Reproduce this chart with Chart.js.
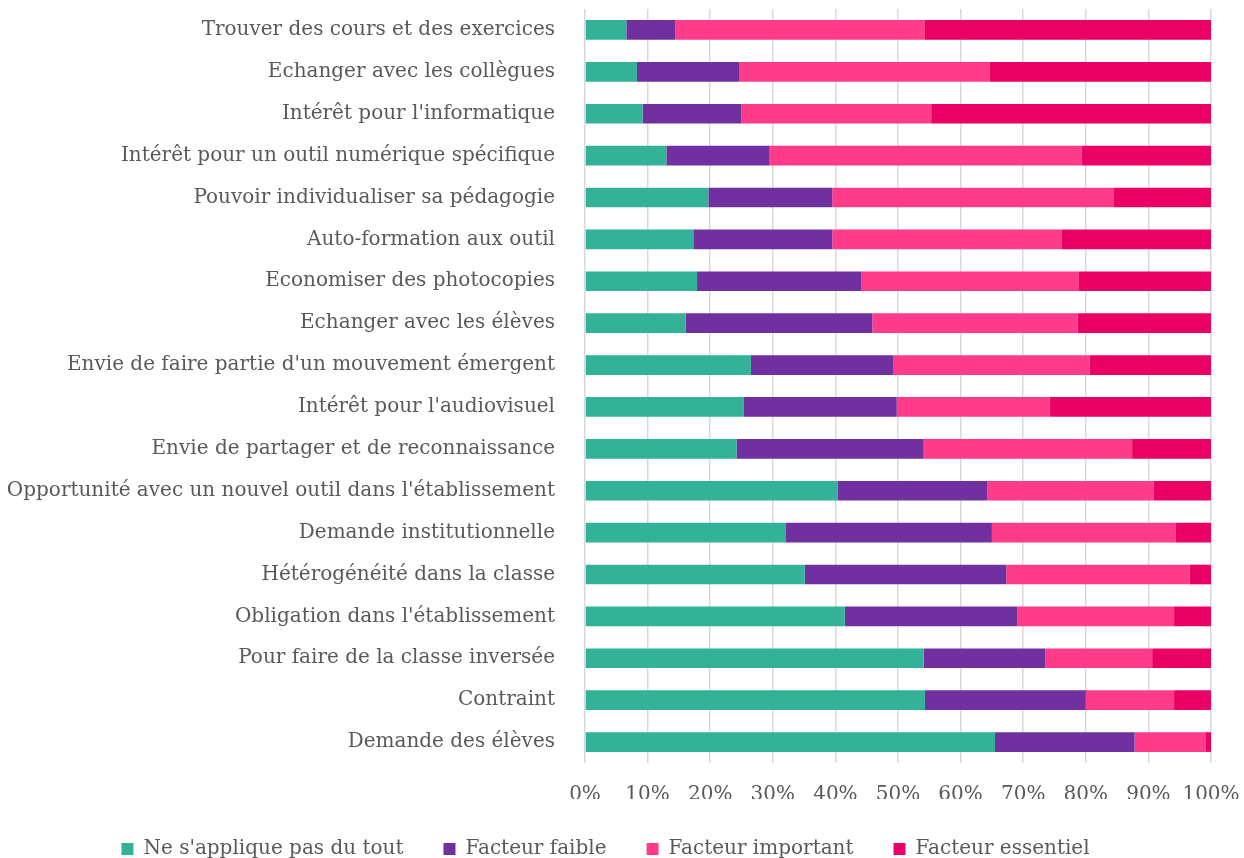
<!DOCTYPE html>
<html lang="fr">
<head>
<meta charset="UTF-8">
<script src="https://cdn.jsdelivr.net/npm/chart.js"></script>
<style>
  html, body { margin: 0; padding: 0; background: #fff; }
  #wrap { width: 1244px; height: 858px; }
</style>
</head>
<body>
<div id="wrap"><canvas id="graphe"></canvas></div>
<script>
var categories = [
  "Trouver des cours et des exercices",
  "Echanger avec les collègues",
  "Intérêt pour l'informatique",
  "Intérêt pour un outil numérique spécifique",
  "Pouvoir individualiser sa pédagogie",
  "Auto-formation aux outil",
  "Economiser des photocopies",
  "Echanger avec les élèves",
  "Envie de faire partie d'un mouvement émergent",
  "Intérêt pour l'audiovisuel",
  "Envie de partager et de reconnaissance",
  "Opportunité avec un nouvel outil dans l'établissement",
  "Demande institutionnelle",
  "Hétérogénéité dans la classe",
  "Obligation dans l'établissement",
  "Pour faire de la classe inversée",
  "Contraint",
  "Demande des élèves"
]
var seriesNames = ["Ne s'applique pas du tout", "Facteur faible", "Facteur important", "Facteur essentiel"]
var nePas     = [6.6, 8.3, 9.2, 13.0, 19.7, 17.3, 17.9, 16.1, 26.5, 25.3, 24.2, 40.4, 32.1, 35.1, 41.5, 54.1, 54.3, 65.5]
var faible    = [7.8, 16.4, 15.8, 16.5, 19.8, 22.2, 26.2, 29.8, 22.7, 24.5, 29.9, 23.9, 32.9, 32.2, 27.6, 19.4, 25.7, 22.3]
var important = [39.8, 39.9, 30.3, 49.8, 45.0, 36.6, 34.7, 32.8, 31.4, 24.4, 33.3, 26.5, 29.4, 29.3, 25.0, 17.1, 14.1, 11.4]
var essentiel = [45.8, 35.4, 44.7, 20.7, 15.5, 23.9, 21.2, 21.3, 19.4, 25.8, 12.6, 9.2, 5.6, 3.4, 5.9, 9.4, 5.9, 0.8]
var tickValues = [0, 10, 20, 30, 40, 50, 60, 70, 80, 90, 100]

var couleurs = ['#33b297', '#7030a0', '#ff3b8a', '#eb0064']
var police = "'DejaVu Serif', serif"
var gris = '#595959'

var valeurs = [nePas, faible, important, essentiel]
var datasets = valeurs.map(function (d, i) {
  return {
    label: seriesNames[i],
    data: d,
    backgroundColor: couleurs[i],
    borderWidth: 0,
    categoryPercentage: 1,
    barPercentage: 0.47
  }
})

var ctx = document.getElementById('graphe').getContext('2d')
var monGraphe = new Chart(ctx, {
  type: 'bar',
  data: { labels: categories, datasets: datasets },
  options: {
    indexAxis: 'y',
    responsive: true,
    maintainAspectRatio: false,
    animation: false,
    layout: { padding: { top: 9, right: 33, left: 0, bottom: 0 } },
    scales: {
      x: {
        stacked: true,
        min: 0,
        max: 100,
        afterBuildTicks: function (scale) {
          scale.ticks = tickValues.map(function (v) { return { value: v } })
        },
        afterFit: function (scale) {
          scale.paddingLeft = 0
          scale.paddingRight = 0
          scale.height = 36
        },
        grid: { color: '#d9d9d9', lineWidth: 1.5, drawTicks: false },
        border: { display: false },
        ticks: {
          padding: 20,
          autoSkip: false,
          maxRotation: 0,
          minRotation: 0,
          color: gris,
          font: { family: police, size: 20 },
          callback: function (v) { return v + '%' }
        }
      },
      y: {
        stacked: true,
        grid: { display: false },
        border: { display: false },
        afterFit: function (scale) {
          scale.width = 585
          scale.paddingTop = 0
          scale.paddingBottom = 0
        },
        ticks: {
          padding: 22,
          color: gris,
          autoSkip: false,
          font: { family: police, size: 20 }
        }
      }
    },
    plugins: {
      legend: {
        position: 'bottom',
        maxHeight: 59,
        labels: {
          boxWidth: 12,
          boxHeight: 12,
          padding: 40,
          color: gris,
          font: { family: police, size: 20 }
        }
      },
      tooltip: { enabled: false }
    }
  }
})
</script>
</body>
</html>
